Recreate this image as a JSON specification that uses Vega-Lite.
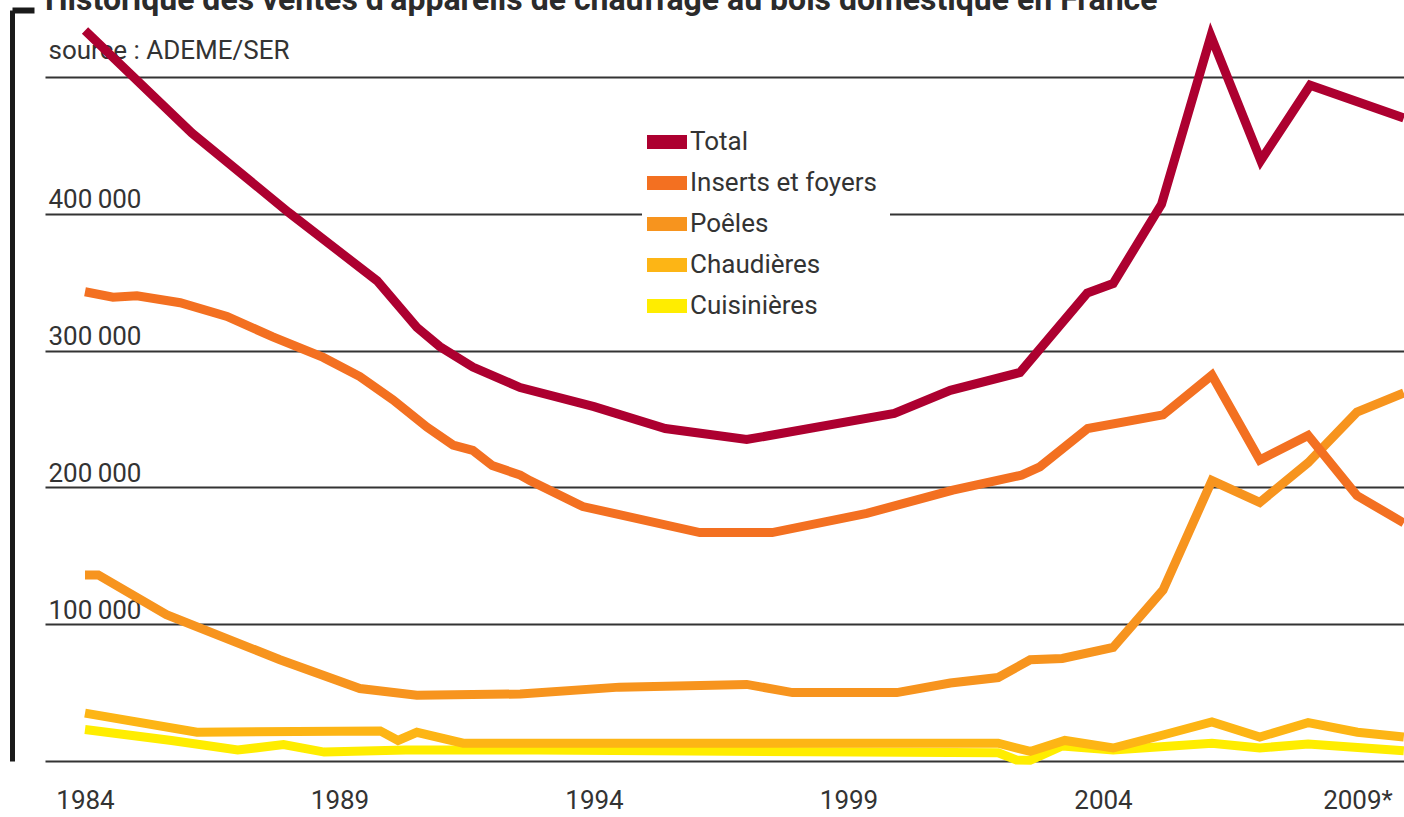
{
  "$schema": "https://vega.github.io/schema/vega-lite/v6.json",
  "width": 1359,
  "height": 751,
  "autosize": {"type": "none"},
  "padding": {"left": 45, "top": 10, "right": 0, "bottom": 56},
  "background": "white",
  "title": {
    "text": "Historique des ventes d’appareils de chauffage au bois domestique en France",
    "anchor": "start",
    "frame": "group",
    "baseline": "alphabetic",
    "offset": 0,
    "dy": 35,
    "font": "Roboto",
    "fontSize": 32,
    "fontWeight": "bold",
    "color": "#2b2b2b"
  },
  "config": {
    "view": {"stroke": null},
    "font": "Roboto"
  },
  "data": {
    "values": [
      {"year": 1984.0, "series": "Cuisinières", "value": 23000},
      {"year": 1985.7, "series": "Cuisinières", "value": 15000},
      {"year": 1987.0, "series": "Cuisinières", "value": 8000},
      {"year": 1987.9, "series": "Cuisinières", "value": 12000},
      {"year": 1988.7, "series": "Cuisinières", "value": 6500},
      {"year": 1990.3, "series": "Cuisinières", "value": 8000},
      {"year": 1992.9, "series": "Cuisinières", "value": 8000},
      {"year": 2001.94, "series": "Cuisinières", "value": 6000},
      {"year": 2002.3, "series": "Cuisinières", "value": 800},
      {"year": 2002.57, "series": "Cuisinières", "value": 500},
      {"year": 2003.2, "series": "Cuisinières", "value": 11000},
      {"year": 2004.2, "series": "Cuisinières", "value": 8000},
      {"year": 2006.14, "series": "Cuisinières", "value": 13000},
      {"year": 2007.08, "series": "Cuisinières", "value": 9500},
      {"year": 2008.03, "series": "Cuisinières", "value": 12500},
      {"year": 2009.91, "series": "Cuisinières", "value": 7500},

      {"year": 1984.0, "series": "Chaudières", "value": 35000},
      {"year": 1986.2, "series": "Chaudières", "value": 21000},
      {"year": 1989.8, "series": "Chaudières", "value": 22000},
      {"year": 1990.15, "series": "Chaudières", "value": 15000},
      {"year": 1990.52, "series": "Chaudières", "value": 21000},
      {"year": 1991.43, "series": "Chaudières", "value": 13000},
      {"year": 1992.9, "series": "Chaudières", "value": 13000},
      {"year": 2001.94, "series": "Chaudières", "value": 13000},
      {"year": 2002.57, "series": "Chaudières", "value": 7000},
      {"year": 2003.25, "series": "Chaudières", "value": 15000},
      {"year": 2004.2, "series": "Chaudières", "value": 9500},
      {"year": 2005.18, "series": "Chaudières", "value": 19000},
      {"year": 2006.14, "series": "Chaudières", "value": 28500},
      {"year": 2007.08, "series": "Chaudières", "value": 17500},
      {"year": 2008.03, "series": "Chaudières", "value": 28000},
      {"year": 2009.0, "series": "Chaudières", "value": 21000},
      {"year": 2009.91, "series": "Chaudières", "value": 17500},

      {"year": 1984.0, "series": "Poêles", "value": 136000},
      {"year": 1984.26, "series": "Poêles", "value": 136000},
      {"year": 1985.6, "series": "Poêles", "value": 107000},
      {"year": 1987.83, "series": "Poêles", "value": 74000},
      {"year": 1989.4, "series": "Poêles", "value": 53000},
      {"year": 1990.52, "series": "Poêles", "value": 48000},
      {"year": 1992.55, "series": "Poêles", "value": 49000},
      {"year": 1994.5, "series": "Poêles", "value": 54000},
      {"year": 1997.0, "series": "Poêles", "value": 56000},
      {"year": 1997.9, "series": "Poêles", "value": 50000},
      {"year": 1999.95, "series": "Poêles", "value": 50000},
      {"year": 2001.0, "series": "Poêles", "value": 57000},
      {"year": 2001.94, "series": "Poêles", "value": 61000},
      {"year": 2002.57, "series": "Poêles", "value": 74000},
      {"year": 2003.2, "series": "Poêles", "value": 75000},
      {"year": 2004.2, "series": "Poêles", "value": 83000},
      {"year": 2005.18, "series": "Poêles", "value": 125000},
      {"year": 2006.14, "series": "Poêles", "value": 205000},
      {"year": 2007.08, "series": "Poêles", "value": 189000},
      {"year": 2008.03, "series": "Poêles", "value": 218000},
      {"year": 2008.99, "series": "Poêles", "value": 255000},
      {"year": 2009.91, "series": "Poêles", "value": 269000},

      {"year": 1984.0, "series": "Inserts et foyers", "value": 343000},
      {"year": 1984.55, "series": "Inserts et foyers", "value": 339000},
      {"year": 1985.02, "series": "Inserts et foyers", "value": 340000},
      {"year": 1985.87, "series": "Inserts et foyers", "value": 335000},
      {"year": 1986.79, "series": "Inserts et foyers", "value": 325000},
      {"year": 1987.69, "series": "Inserts et foyers", "value": 310000},
      {"year": 1988.68, "series": "Inserts et foyers", "value": 295000},
      {"year": 1989.4, "series": "Inserts et foyers", "value": 281000},
      {"year": 1990.05, "series": "Inserts et foyers", "value": 264000},
      {"year": 1990.72, "series": "Inserts et foyers", "value": 244000},
      {"year": 1991.23, "series": "Inserts et foyers", "value": 231000},
      {"year": 1991.62, "series": "Inserts et foyers", "value": 227000},
      {"year": 1992.0, "series": "Inserts et foyers", "value": 216000},
      {"year": 1992.55, "series": "Inserts et foyers", "value": 209000},
      {"year": 1992.74, "series": "Inserts et foyers", "value": 205000},
      {"year": 1993.78, "series": "Inserts et foyers", "value": 186000},
      {"year": 1996.08, "series": "Inserts et foyers", "value": 167000},
      {"year": 1997.5, "series": "Inserts et foyers", "value": 167000},
      {"year": 1999.36, "series": "Inserts et foyers", "value": 181000},
      {"year": 2001.05, "series": "Inserts et foyers", "value": 198000},
      {"year": 2002.4, "series": "Inserts et foyers", "value": 209000},
      {"year": 2002.76, "series": "Inserts et foyers", "value": 215000},
      {"year": 2003.7, "series": "Inserts et foyers", "value": 243000},
      {"year": 2005.18, "series": "Inserts et foyers", "value": 253000},
      {"year": 2006.14, "series": "Inserts et foyers", "value": 282000},
      {"year": 2007.08, "series": "Inserts et foyers", "value": 220000},
      {"year": 2008.03, "series": "Inserts et foyers", "value": 238000},
      {"year": 2008.99, "series": "Inserts et foyers", "value": 194000},
      {"year": 2009.91, "series": "Inserts et foyers", "value": 174000},

      {"year": 1984.0, "series": "Total", "value": 534000},
      {"year": 1986.1, "series": "Total", "value": 459000},
      {"year": 1988.0, "series": "Total", "value": 401000},
      {"year": 1989.74, "series": "Total", "value": 351000},
      {"year": 1990.52, "series": "Total", "value": 317000},
      {"year": 1990.97, "series": "Total", "value": 303000},
      {"year": 1991.62, "series": "Total", "value": 288000},
      {"year": 1992.55, "series": "Total", "value": 273000},
      {"year": 1994.0, "series": "Total", "value": 259000},
      {"year": 1995.4, "series": "Total", "value": 243000},
      {"year": 1997.0, "series": "Total", "value": 235000},
      {"year": 1999.9, "series": "Total", "value": 254000},
      {"year": 2001.0, "series": "Total", "value": 271000},
      {"year": 2002.37, "series": "Total", "value": 284000},
      {"year": 2003.69, "series": "Total", "value": 342000},
      {"year": 2004.2, "series": "Total", "value": 349000},
      {"year": 2005.15, "series": "Total", "value": 407000},
      {"year": 2006.12, "series": "Total", "value": 530000},
      {"year": 2007.1, "series": "Total", "value": 439000},
      {"year": 2008.07, "series": "Total", "value": 494000},
      {"year": 2009.91, "series": "Total", "value": 470000}
    ]
  },
  "layer": [
    {
      "mark": {"type": "line", "strokeWidth": 9, "strokeMiterLimit": 4},
      "encoding": {
        "x": {
          "field": "year",
          "type": "quantitative",
          "scale": {"domain": [1983.214, 2009.914], "nice": false, "zero": false},
          "axis": {
            "values": [1984, 1989, 1994, 1999, 2004, 2009],
            "domain": false,
            "ticks": false,
            "grid": false,
            "labelExpr": "datum.value == 2009 ? '2009*' : '' + datum.value",
            "labelFontSize": 26,
            "labelPadding": 26,
            "labelColor": "#333333",
            "labelFlush": false,
            "labelOverlap": false,
            "title": null
          }
        },
        "y": {
          "field": "value",
          "type": "quantitative",
          "scale": {"domain": [0, 548976], "nice": false, "zero": true},
          "axis": {
            "orient": "left",
            "values": [0, 100000, 200000, 300000, 400000, 500000],
            "grid": true,
            "gridColor": "#333333",
            "gridWidth": 2,
            "domain": false,
            "ticks": false,
            "labelAlign": "left",
            "labelBaseline": "alphabetic",
            "labelPadding": -3,
            "labelOffset": -6,
            "labelFontSize": 26,
            "labelColor": "#333333",
            "labelOverlap": false,
            "labelBound": false,
            "labelExpr": "(datum.value == 0 || datum.value == 500000) ? '' : format(datum.value / 1000, 'd') + '\u2009000'",
            "title": "source : ADEME/SER",
            "titleAngle": 0,
            "titleAlign": "left",
            "titleBaseline": "alphabetic",
            "titleX": 3,
            "titleY": 48,
            "titleFontSize": 26,
            "titleFontWeight": "normal",
            "titleColor": "#333333"
          }
        },
        "color": {
          "field": "series",
          "type": "nominal",
          "scale": {
            "domain": ["Total", "Inserts et foyers", "Poêles", "Chaudières", "Cuisinières"],
            "range": ["#AD0030", "#F37021", "#F7941E", "#FDB515", "#FFED00"]
          },
          "legend": {
            "title": null,
            "orient": "none",
            "legendX": 597,
            "legendY": 107,
            "fillColor": "white",
            "padding": 12,
            "symbolType": "M-4,0H4",
            "symbolSize": 100,
            "symbolStrokeWidth": 14,
            "labelFontSize": 26,
            "labelColor": "#333333",
            "labelOffset": 10,
            "labelLimit": 400,
            "rowPadding": -30
          }
        }
      }
    },
    {
      "mark": {"type": "point", "opacity": 0},
      "encoding": {
        "x": {
          "field": "year",
          "type": "quantitative",
          "axis": {
            "values": [1984, 1989, 1994, 1999, 2004, 2009],
            "domain": false,
            "ticks": false,
            "grid": false,
            "labelExpr": "datum.value == 2009 ? '2009*' : '' + datum.value",
            "labelFontSize": 26,
            "labelPadding": 26,
            "labelColor": "#333333",
            "labelFlush": false,
            "labelOverlap": false,
            "title": null
          }
        },
        "y": {
          "field": "value",
          "type": "quantitative",
          "axis": {
            "orient": "left",
            "offset": 33,
            "values": [548976],
            "grid": false,
            "labels": false,
            "domain": true,
            "domainColor": "#1a1a1a",
            "domainWidth": 5,
            "ticks": true,
            "tickSize": -22,
            "tickWidth": 6,
            "tickColor": "#1a1a1a",
            "title": null
          }
        }
      }
    }
  ],
  "resolve": {"axis": {"y": "independent"}}
}
